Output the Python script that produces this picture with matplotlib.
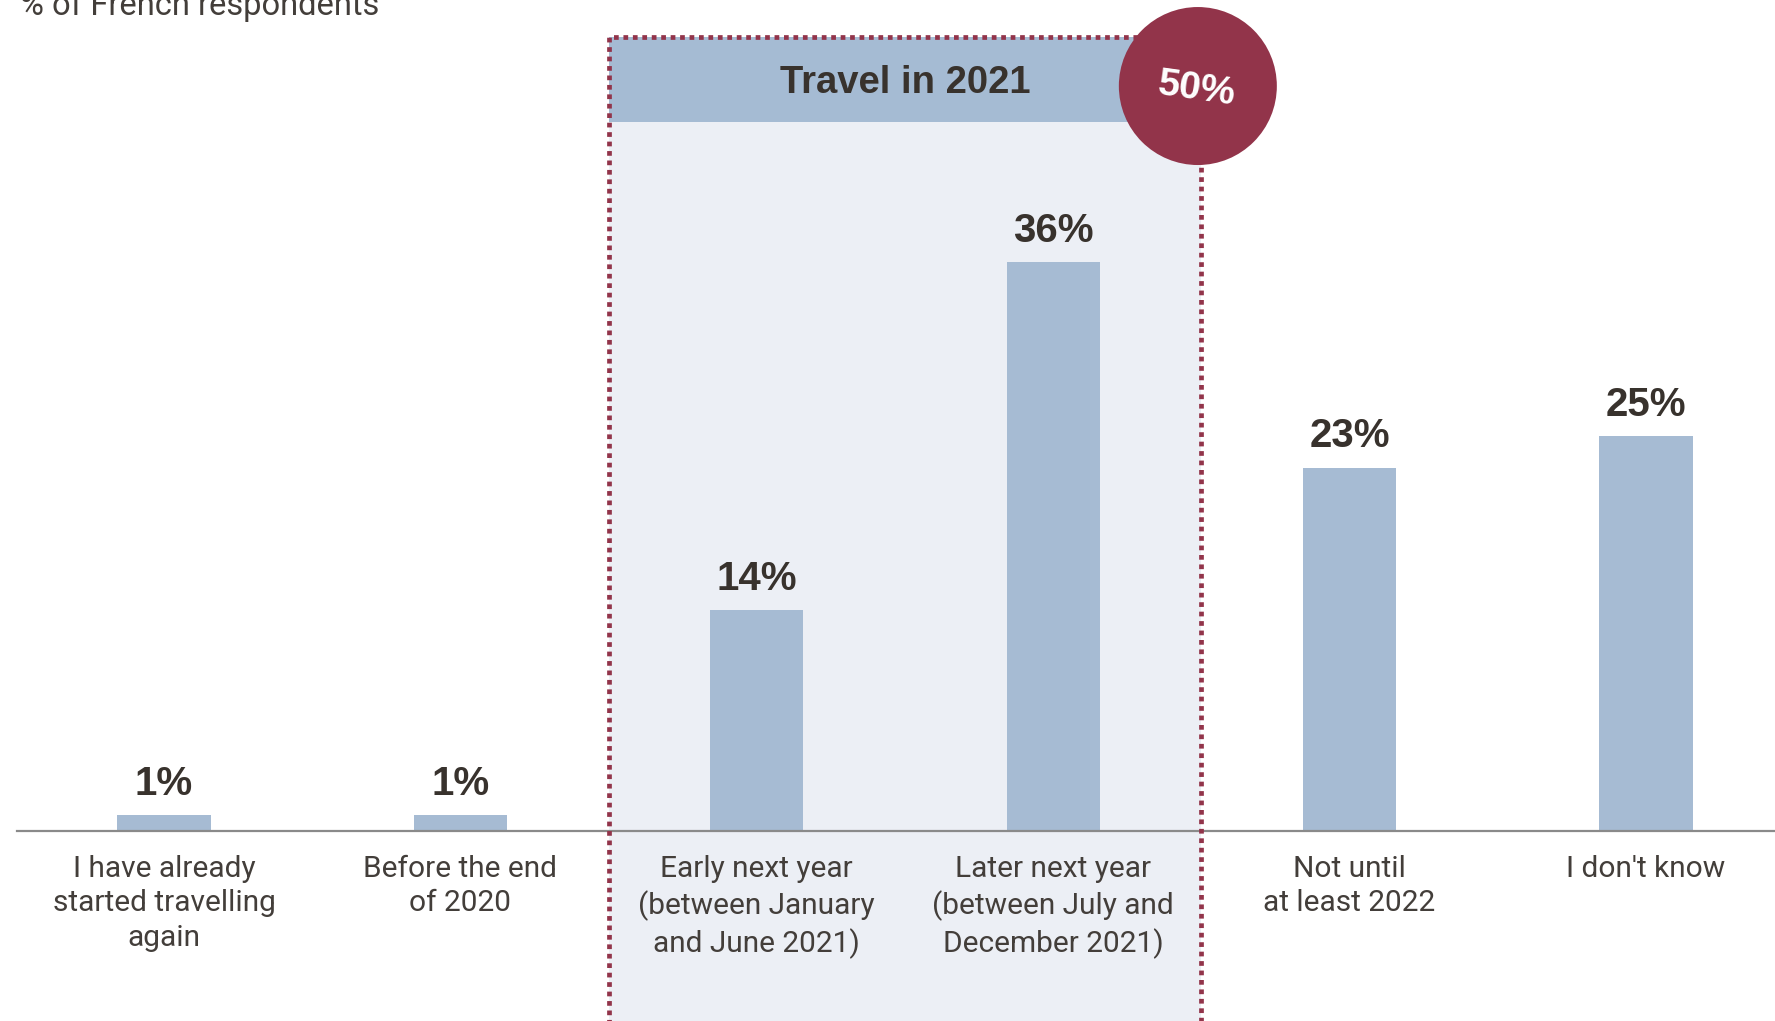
import matplotlib
matplotlib.use("Agg")
import matplotlib.pyplot as plt
from matplotlib.patches import Rectangle, Ellipse

# Survey answers: when French respondents expect to travel again
categories = [
    "I have already\nstarted travelling\nagain",
    "Before the end\nof 2020",
    "Early next year\n(between January\nand June 2021)",
    "Later next year\n(between July and\nDecember 2021)",
    "Not until\nat least 2022",
    "I don't know",
]
values = [1, 1, 14, 36, 23, 25]
value_labels = ["1%", "1%", "14%", "36%", "23%", "25%"]

# Highlighted group of answers (indices of the two 2021 categories)
group_first, group_last = 2, 3
group_title = "Travel in 2021"
group_total = "50%"
y_title = "% of French respondents"

BAR = "#A6BBD3"
BAND = "#A5BBD3"
PANEL = "#ECEFF5"
WINE = "#92344A"
DARK = "#38322D"
TEXT = "#433E3A"
GREY = "#8A8A8A"

LIGHT = ["Roboto", "DejaVu Sans"]
BOLD = ["Liberation Sans", "DejaVu Sans"]

W, H, DPI = 1775, 1021, 100
fig = plt.figure(figsize=(W / DPI, H / DPI), dpi=DPI)
fig.patch.set_facecolor("white")

base_px = 190            # baseline height above figure bottom, px
px_per_pct = 15.8        # vertical scale
step_px = 296.4          # distance between category centres, px
first_px = 164           # centre of the first category, px

ax = fig.add_axes([0, base_px / H, 1, (H - base_px) / H])
ax.set_xlim(-first_px / step_px, (W - first_px) / step_px)
ax.set_ylim(0, (H - base_px) / px_per_pct)
ax.patch.set_alpha(0)

x = list(range(len(categories)))

# Highlight panel behind the 2021 answers
left = group_first - 0.5
right = group_last + 0.5
top = 50.25
band_bottom = 44.9
below = -base_px / px_per_pct - 5
ax.add_patch(Rectangle((left, below), right - left, top - below,
                       facecolor=PANEL, edgecolor="none", zorder=0, clip_on=False))
ax.add_patch(Rectangle((left, band_bottom), right - left, top - band_bottom,
                       facecolor=BAND, edgecolor="none", zorder=1, clip_on=False))
ax.add_patch(Rectangle((left, below), right - left, top - below,
                       facecolor="none", edgecolor=WINE, linewidth=3.4,
                       linestyle=(0, (1, 1.0)), zorder=4, clip_on=False))
ax.text((left + right) / 2, (top + band_bottom) / 2, group_title,
        ha="center", va="center_baseline", fontsize=27.5, fontweight="bold",
        color=DARK, family=BOLD, zorder=5)

# Bubble holding the group total
cy = 47.15
ax.add_patch(Ellipse((right - 0.012, cy), 2 * 79 / step_px, 2 * 79 / px_per_pct,
                     facecolor=WINE, edgecolor="none", zorder=6, clip_on=False))
ax.text(right - 0.012, cy, group_total, ha="center", va="center_baseline",
        fontsize=28, fontweight="bold", color="white", family=BOLD,
        rotation=-8, rotation_mode="anchor", zorder=7)

# Bars and value labels
ax.bar(x, values, width=0.314, color=BAR, zorder=2)
for xi, v, lab in zip(x, values, value_labels):
    ax.annotate(lab, (xi, v), xytext=(0, 14.5), textcoords="offset points",
                ha="center", va="baseline", fontsize=29, fontweight="bold",
                color=DARK, family=BOLD, zorder=5)

# Axis styling: only a grey baseline
for side in ("top", "right", "left"):
    ax.spines[side].set_visible(False)
ax.spines["bottom"].set_color(GREY)
ax.spines["bottom"].set_linewidth(1.6)
ax.spines["bottom"].set_bounds(-0.496, ax.get_xlim()[1])
ax.spines["bottom"].set_zorder(3)
ax.set_yticks([])
ax.set_xticks(x)
ax.set_xticklabels(categories, fontsize=21.5, color=TEXT, family=LIGHT,
                   fontweight="normal", linespacing=1.31)
ax.tick_params(axis="x", length=0, pad=17)

fig.text(20 / W, (H - 15) / H, y_title, ha="left", va="baseline",
         fontsize=23.5, color=TEXT, family=LIGHT, fontweight="normal")

fig.savefig("out.png", dpi=DPI, facecolor="white")
